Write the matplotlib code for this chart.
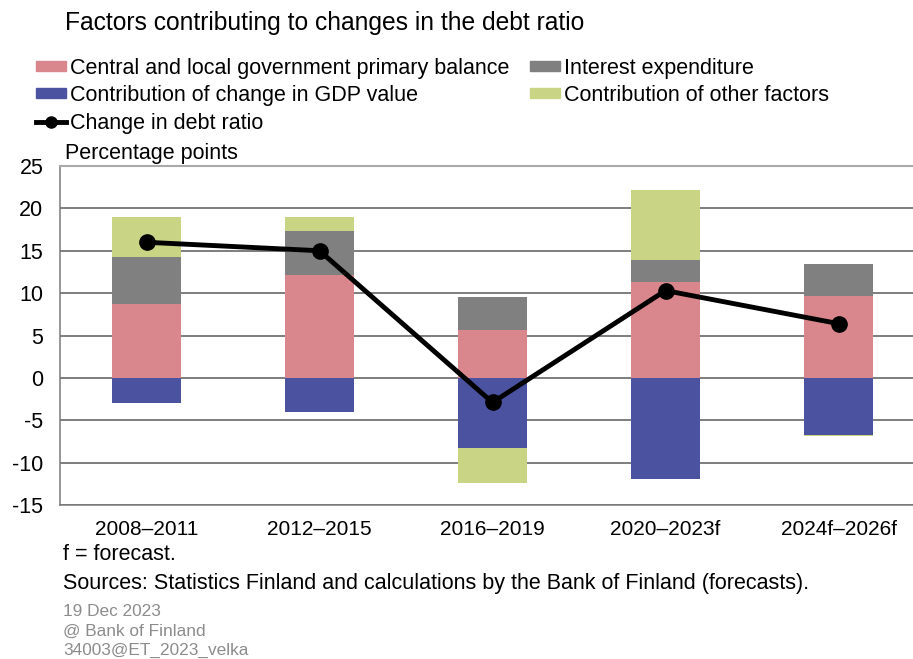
import matplotlib
matplotlib.use("Agg")
import matplotlib.pyplot as plt
import numpy as np
from matplotlib.patches import Patch
from matplotlib.lines import Line2D

plt.rcParams['font.family'] = ['Liberation Sans', 'DejaVu Sans']

categories = ["2008–2011", "2012–2015", "2016–2019", "2020–2023f", "2024f–2026f"]
primary_balance = [8.7, 12.1, 5.7, 11.3, 9.7]
interest_expenditure = [5.6, 5.2, 3.9, 2.6, 3.7]
gdp_contribution = [-3.0, -4.0, -8.3, -11.9, -6.7]
other_factors = [4.7, 1.7, -4.1, 8.3, -0.2]
change_in_debt = [16.0, 15.0, -2.9, 10.3, 6.4]
y_ticks = [-15, -10, -5, 0, 5, 10, 15, 20, 25]

c_pink = "#D9878C"
c_gray = "#808080"
c_blue = "#4B53A1"
c_green = "#C9D484"

W, H = 913, 659
fig = plt.figure(figsize=(W / 100, H / 100), dpi=100)
ax = fig.add_axes([60 / W, 1 - 505 / H, 865 / W, 339 / H])

x = np.arange(len(categories))
bw = 0.4

series = [primary_balance, interest_expenditure, gdp_contribution, other_factors]
colors = [c_pink, c_gray, c_blue, c_green]
pos_base = np.zeros(len(categories))
neg_base = np.zeros(len(categories))
for vals, col in zip(series, colors):
    vals = np.array(vals, dtype=float)
    bottoms = np.where(vals >= 0, pos_base, neg_base)
    ax.bar(x, vals, bw, bottom=bottoms, color=col, zorder=2, linewidth=0)
    pos_base = pos_base + np.where(vals >= 0, vals, 0)
    neg_base = neg_base + np.where(vals < 0, vals, 0)

ax.plot(x, change_in_debt, color="black", lw=3.5, marker="o", markersize=11, zorder=3)

ax.set_xlim(-0.5, len(categories) - 0.5)
ax.set_ylim(-15, 25)
ax.set_yticks(y_ticks)
ax.set_yticklabels([str(t) for t in y_ticks], fontsize=15.5)
ax.set_xticks(x)
ax.set_xticklabels(categories, fontsize=15)
ax.tick_params(axis="both", length=0)
ax.tick_params(axis="y", pad=12)
ax.tick_params(axis="x", pad=11)
ax.yaxis.grid(True, color="#5a5a5a", lw=1.1, zorder=0)
ax.set_axisbelow(True)
for s in ["left", "bottom"]:
    ax.spines[s].set_color("#7a7a7a")
    ax.spines[s].set_linewidth(1.1)
ax.spines["top"].set_color("#aaaaaa")
ax.spines["top"].set_linewidth(1.5)
ax.spines["right"].set_visible(False)

fig.text(64.5 / W, 1 - 23 / H, "Factors contributing to changes in the debt ratio",
         fontsize=17.7, va="center", ha="left")

handles = [
    Patch(color=c_pink, label="Central and local government primary balance"),
    Patch(color=c_blue, label="Contribution of change in GDP value"),
    Line2D([0], [0], color="black", lw=3.5, marker="o", markersize=8, label="Change in debt ratio"),
    Patch(color=c_gray, label="Interest expenditure"),
    Patch(color=c_green, label="Contribution of other factors"),
]
fig.legend(handles=handles, ncol=2, loc="upper left", bbox_to_anchor=(27.5 / W, 1 - 49 / H),
           frameon=False, fontsize=15.5, handlelength=1.4, handleheight=0.33,
           handletextpad=0.19, columnspacing=0.95, labelspacing=0.3, borderaxespad=0)

fig.text(65 / W, 1 - 154 / H, "Percentage points", fontsize=15.5, va="center", ha="left")
fig.text(63 / W, 1 - 555 / H, "f = forecast.", fontsize=15.5, va="center", ha="left")
fig.text(63 / W, 1 - 584 / H,
         "Sources: Statistics Finland and calculations by the Bank of Finland (forecasts).",
         fontsize=15.5, va="center", ha="left")
for yy, t in [(611, "19 Dec 2023"), (631, "@ Bank of Finland"), (650, "34003@ET_2023_velka")]:
    fig.text(63 / W, 1 - yy / H, t, fontsize=12.4, color="#8c8c8c", va="center", ha="left")

fig.savefig("out.png", dpi=100)
